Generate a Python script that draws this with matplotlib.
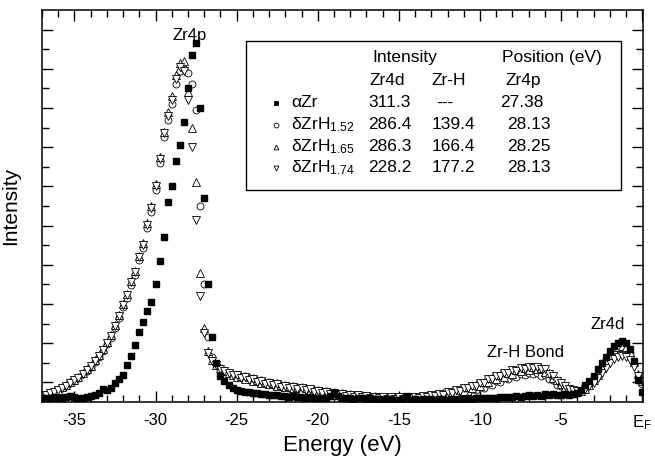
import numpy as np
import matplotlib.pyplot as plt
from matplotlib.patches import Rectangle

plt.rcParams['font.family'] = ['Liberation Sans', 'DejaVu Sans']
plt.rcParams['mathtext.fontset'] = 'custom'
plt.rcParams['mathtext.rm'] = 'Liberation Sans'
plt.rcParams['mathtext.it'] = 'Liberation Sans'

# energy grid (eV), 0.25 eV steps, one row = 2 eV
energy = [
    -37.00, -36.75, -36.50, -36.25, -36.00, -35.75, -35.50, -35.25,
    -35.00, -34.75, -34.50, -34.25, -34.00, -33.75, -33.50, -33.25,
    -33.00, -32.75, -32.50, -32.25, -32.00, -31.75, -31.50, -31.25,
    -31.00, -30.75, -30.50, -30.25, -30.00, -29.75, -29.50, -29.25,
    -29.00, -28.75, -28.50, -28.25, -28.00, -27.75, -27.50, -27.25,
    -27.00, -26.75, -26.50, -26.25, -26.00, -25.75, -25.50, -25.25,
    -25.00, -24.75, -24.50, -24.25, -24.00, -23.75, -23.50, -23.25,
    -23.00, -22.75, -22.50, -22.25, -22.00, -21.75, -21.50, -21.25,
    -21.00, -20.75, -20.50, -20.25, -20.00, -19.75, -19.50, -19.25,
    -19.00, -18.75, -18.50, -18.25, -18.00, -17.75, -17.50, -17.25,
    -17.00, -16.75, -16.50, -16.25, -16.00, -15.75, -15.50, -15.25,
    -15.00, -14.75, -14.50, -14.25, -14.00, -13.75, -13.50, -13.25,
    -13.00, -12.75, -12.50, -12.25, -12.00, -11.75, -11.50, -11.25,
    -11.00, -10.75, -10.50, -10.25, -10.00, -9.75, -9.50, -9.25,
    -9.00, -8.75, -8.50, -8.25, -8.00, -7.75, -7.50, -7.25,
    -7.00, -6.75, -6.50, -6.25, -6.00, -5.75, -5.50, -5.25,
    -5.00, -4.75, -4.50, -4.25, -4.00, -3.75, -3.50, -3.25,
    -3.00, -2.75, -2.50, -2.25, -2.00, -1.75, -1.50, -1.25,
    -1.00, -0.75, -0.50, -0.25, 0.00,
]

alpha_zr = [
    0.20, 0.22, 0.18, 0.25, 0.20, 0.22, 0.28, 0.30,
    0.25, 0.22, 0.20, 0.25, 0.30, 0.35, 0.45, 0.65,
    0.60, 0.72, 0.95, 1.15, 1.40, 1.90, 2.35, 2.90,
    3.55, 4.10, 4.65, 5.10, 6.00, 7.20, 8.40, 10.2,
    11.0, 12.3, 13.1, 14.3, 16.0, 17.7, 18.3, 15.0,
    10.4, 6.00, 3.30, 2.00, 1.35, 1.05, 0.85, 0.72,
    0.62, 0.58, 0.52, 0.50, 0.45, 0.48, 0.42, 0.40,
    0.38, 0.35, 0.36, 0.30, 0.32, 0.28, 0.30, 0.25,
    0.25, 0.22, 0.24, 0.20, 0.22, 0.18, 0.20, 0.30,
    0.45, 0.30, 0.20, 0.18, 0.22, 0.15, 0.18, 0.20,
    0.15, 0.18, 0.14, 0.16, 0.12, 0.15, 0.14, 0.12,
    0.12, 0.14, 0.30, 0.12, 0.14, 0.12, 0.15, 0.13,
    0.14, 0.12, 0.15, 0.14, 0.12, 0.15, 0.14, 0.16,
    0.15, 0.18, 0.16, 0.20, 0.18, 0.20, 0.22, 0.20,
    0.22, 0.25, 0.24, 0.28, 0.26, 0.30, 0.28, 0.32,
    0.35, 0.30, 0.38, 0.32, 0.40, 0.36, 0.42, 0.38,
    0.35, 0.40, 0.38, 0.42, 0.48, 0.60, 0.85, 1.05,
    1.35, 1.70, 2.00, 2.30, 2.60, 2.85, 3.00, 3.10,
    3.00, 2.70, 2.10, 1.10, 0.50,
]

zrh_152 = [
    0.30, 0.36, 0.44, 0.50, 0.60, 0.70, 0.82, 0.95,
    1.08, 1.22, 1.42, 1.60, 1.78, 2.05, 2.30, 2.60,
    2.95, 3.25, 3.80, 4.30, 4.85, 5.30, 5.95, 6.50,
    7.25, 7.85, 8.90, 9.70, 10.8, 12.2, 13.5, 14.4,
    15.2, 16.2, 16.9, 17.0, 16.8, 16.2, 14.9, 10.0,
    6.00, 3.30, 2.30, 1.95, 1.75, 1.60, 1.50, 1.42,
    1.38, 1.26, 1.31, 1.18, 1.20, 1.06, 1.12, 0.96,
    1.04, 0.88, 0.95, 0.80, 0.88, 0.74, 0.80, 0.68,
    0.75, 0.62, 0.68, 0.54, 0.60, 0.48, 0.55, 0.42,
    0.50, 0.38, 0.45, 0.33, 0.40, 0.30, 0.36, 0.26,
    0.32, 0.24, 0.29, 0.20, 0.26, 0.19, 0.24, 0.17,
    0.22, 0.16, 0.22, 0.17, 0.24, 0.19, 0.26, 0.21,
    0.30, 0.23, 0.35, 0.28, 0.40, 0.33, 0.47, 0.40,
    0.56, 0.49, 0.66, 0.60, 0.78, 0.73, 0.94, 0.88,
    1.08, 1.03, 1.21, 1.16, 1.33, 1.29, 1.43, 1.37,
    1.50, 1.41, 1.50, 1.35, 1.37, 1.15, 1.10, 0.88,
    0.80, 0.68, 0.58, 0.52, 0.50, 0.58, 0.72, 0.90,
    1.15, 1.45, 1.80, 2.15, 2.45, 2.68, 2.80, 2.85,
    2.78, 2.50, 1.95, 1.30, 0.90,
]

zrh_165 = [
    0.32, 0.38, 0.46, 0.54, 0.62, 0.74, 0.86, 1.00,
    1.12, 1.28, 1.48, 1.66, 1.85, 2.12, 2.38, 2.68,
    3.05, 3.40, 3.95, 4.45, 5.00, 5.50, 6.15, 6.70,
    7.45, 8.10, 9.15, 10.0, 11.1, 12.5, 13.8, 14.8,
    15.6, 16.7, 17.3, 17.4, 15.8, 14.0, 11.2, 6.60,
    3.80, 2.60, 2.15, 1.90, 1.72, 1.58, 1.48, 1.40,
    1.30, 1.34, 1.19, 1.26, 1.08, 1.14, 0.99, 1.04,
    0.90, 0.96, 0.83, 0.89, 0.75, 0.81, 0.69, 0.75,
    0.63, 0.70, 0.55, 0.62, 0.49, 0.55, 0.43, 0.50,
    0.38, 0.45, 0.33, 0.40, 0.29, 0.36, 0.25, 0.33,
    0.23, 0.30, 0.20, 0.27, 0.18, 0.25, 0.16, 0.24,
    0.15, 0.24, 0.16, 0.25, 0.18, 0.28, 0.22, 0.32,
    0.26, 0.38, 0.31, 0.45, 0.39, 0.53, 0.48, 0.63,
    0.58, 0.76, 0.70, 0.89, 0.84, 1.04, 1.00, 1.20,
    1.16, 1.36, 1.30, 1.50, 1.44, 1.62, 1.56, 1.72,
    1.64, 1.78, 1.66, 1.74, 1.52, 1.50, 1.20, 1.14,
    0.92, 0.76, 0.64, 0.56, 0.52, 0.56, 0.68, 0.85,
    1.10, 1.40, 1.75, 2.10, 2.40, 2.65, 2.80, 2.86,
    2.80, 2.55, 2.05, 1.45, 1.05,
]

zrh_174 = [
    0.30, 0.37, 0.45, 0.52, 0.61, 0.72, 0.84, 0.98,
    1.10, 1.25, 1.45, 1.64, 1.82, 2.08, 2.35, 2.64,
    3.00, 3.35, 3.90, 4.40, 4.95, 5.45, 6.10, 6.62,
    7.38, 8.02, 9.05, 9.90, 11.0, 12.4, 13.7, 14.6,
    15.4, 16.5, 17.1, 16.9, 15.4, 13.0, 9.30, 5.40,
    3.50, 2.50, 2.10, 1.88, 1.70, 1.56, 1.46, 1.38,
    1.36, 1.22, 1.26, 1.14, 1.16, 1.02, 1.06, 0.93,
    0.98, 0.86, 0.90, 0.79, 0.84, 0.72, 0.77, 0.66,
    0.72, 0.60, 0.64, 0.52, 0.57, 0.46, 0.52, 0.41,
    0.47, 0.36, 0.42, 0.31, 0.37, 0.28, 0.34, 0.24,
    0.31, 0.21, 0.28, 0.19, 0.26, 0.17, 0.25, 0.16,
    0.24, 0.16, 0.25, 0.18, 0.27, 0.21, 0.31, 0.25,
    0.36, 0.31, 0.42, 0.38, 0.50, 0.47, 0.60, 0.58,
    0.72, 0.70, 0.84, 0.84, 0.99, 0.99, 1.15, 1.16,
    1.32, 1.32, 1.47, 1.46, 1.61, 1.59, 1.72, 1.69,
    1.80, 1.74, 1.81, 1.68, 1.66, 1.44, 1.34, 1.08,
    0.95, 0.80, 0.68, 0.60, 0.56, 0.58, 0.66, 0.80,
    0.98, 1.22, 1.48, 1.75, 1.98, 2.18, 2.30, 2.35,
    2.30, 2.12, 1.78, 1.35, 1.05,
]

# table inside the legend box
sample_names = ['αZr', 'δZrH$_{1.52}$', 'δZrH$_{1.65}$', 'δZrH$_{1.74}$']
zr4d_int = ['311.3', '286.4', '286.3', '228.2']
zrh_int = ['---', '139.4', '166.4', '177.2']
zr4p_pos = ['27.38', '28.13', '28.25', '28.13']

fig = plt.figure(figsize=(6.55, 4.62), dpi=100)
ax = fig.add_axes([42/655, 1 - 402/462, 601/655, 392/462])

hollow = dict(linestyle='none', markerfacecolor='white', markeredgecolor='black', markeredgewidth=0.6)
ax.plot(energy, zrh_152, marker='o', markersize=5.0, **hollow)
ax.plot(energy, zrh_165, marker='^', markersize=5.5, **hollow)
ax.plot(energy, zrh_174, marker='v', markersize=5.5, **hollow)
ax.plot(energy, alpha_zr, marker='s', markersize=4.2, linestyle='none', color='black')

ax.set_xlim(-37.0, 0.05)
ax.set_ylim(0, 20)

ax.set_xticks([-35, -30, -25, -20, -15, -10, -5, 0])
ax.set_xticklabels(['-35', '-30', '-25', '-20', '-15', '-10', '-5', 'E$_{\\mathregular{F}}$'])
ax.set_xticks(np.arange(-37, 1, 1), minor=True)
ax.set_yticks(np.arange(1, 20, 2))
ax.set_yticks(np.arange(2, 20, 2), minor=True)
ax.set_yticklabels([])
ax.tick_params(which='both', direction='in', top=True, right=True, width=1.0)
ax.tick_params(which='major', length=8, labelsize=12, pad=8)
ax.tick_params(which='minor', length=5)
for s in ax.spines.values():
    s.set_linewidth(1.1)

ax.set_xlabel('Energy (eV)', fontsize=16, labelpad=2)
ax.set_ylabel('Intensity', fontsize=15)
ax.yaxis.set_label_coords(-0.037, 0.5)

ax.text(-27.9, 18.7, 'Zr4p', fontsize=12, ha='center', va='center')
ax.text(-7.2, 2.55, 'Zr-H Bond', fontsize=12, ha='center', va='center')
ax.text(-2.1, 3.95, 'Zr4d', fontsize=12, ha='center', va='center')

# legend box drawn in axes fraction
def fx(px):
    return (px - 42) / 601

def fy(py):
    return (402 - py) / 392

ax.add_patch(Rectangle((fx(246), fy(190)), fx(621) - fx(246), fy(41) - fy(190),
                       transform=ax.transAxes, fill=False, edgecolor='black', linewidth=1.0))

fs = 12.5
ax.text(fx(372), fy(58), 'Intensity', transform=ax.transAxes, fontsize=fs, va='center')
ax.text(fx(502), fy(58), 'Position (eV)', transform=ax.transAxes, fontsize=fs, va='center')
ax.text(fx(370), fy(81), 'Zr4d', transform=ax.transAxes, fontsize=fs, va='center')
ax.text(fx(432), fy(81), 'Zr-H', transform=ax.transAxes, fontsize=fs, va='center')
ax.text(fx(506), fy(81), 'Zr4p', transform=ax.transAxes, fontsize=fs, va='center')

row_y = [103, 125, 147, 168]
legend_markers = [('s', 'black'), ('o', 'white'), ('^', 'white'), ('v', 'white')]
for i in range(4):
    y = fy(row_y[i])
    m, fc = legend_markers[i]
    ax.plot([fx(276)], [y], marker=m, markersize=3.5, markerfacecolor=fc,
            markeredgecolor='black', markeredgewidth=0.6, transform=ax.transAxes, clip_on=False)
    ax.text(fx(291), y, sample_names[i], transform=ax.transAxes, fontsize=fs, va='center')
    ax.text(fx(368), y, zr4d_int[i], transform=ax.transAxes, fontsize=fs, va='center')
    if zrh_int[i] == '---':
        ax.text(fx(445), y, zrh_int[i], transform=ax.transAxes, fontsize=fs, va='center', ha='center')
    else:
        ax.text(fx(432), y, zrh_int[i], transform=ax.transAxes, fontsize=fs, va='center')
    ax.text(fx(500 if i == 0 else 507), y, zr4p_pos[i], transform=ax.transAxes, fontsize=fs, va='center')

fig.savefig('out.png', dpi=100)
